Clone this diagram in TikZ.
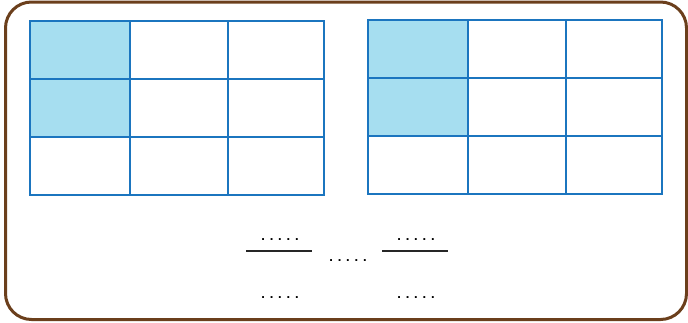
\documentclass[tikz,border=0pt]{standalone}
\usepackage{fontspec}
\setmainfont{Liberation Sans}
\definecolor{framebrown}{HTML}{6B3F1C}
\definecolor{gridblue}{HTML}{1B75BF}
\definecolor{cellfill}{HTML}{A6DEF0}
\begin{document}
\begin{tikzpicture}[x=1pt,y=-1pt,
  gridline/.style={draw=gridblue,line width=2.8pt},
  shade/.style={fill=cellfill},
  dots/.style={inner sep=0pt,anchor=base,font=\fontsize{13}{13}\selectfont\bfseries},
  fracbar/.style={draw=black!85,line width=1.6pt}]
\useasboundingbox (0,0) rectangle (688,322);
\draw[framebrown,line width=3pt,rounded corners=26pt] (5.5,2) rectangle (686.5,319.5);
% left grid
\fill[shade] (30,21) rectangle (130,137);
\draw[gridline] (30,21) rectangle (324,195);
\draw[gridline] (130,21) -- (130,195) (228,21) -- (228,195);
\draw[gridline] (30,79) -- (324,79) (30,137) -- (324,137);
% right grid
\fill[shade] (368,20) rectangle (468,136);
\draw[gridline] (368,20) rectangle (662,194);
\draw[gridline] (468,20) -- (468,194) (566,20) -- (566,194);
\draw[gridline] (368,78) -- (662,78) (368,136) -- (662,136);
% fractions
\node[dots] (n1) at (280,240) {. . . . .};
\coordinate (b1l) at (246,251); \coordinate (b1r) at (312,251);
\draw[fracbar] (b1l) -- (b1r);
\node[dots] (d1) at (280,298) {. . . . .};
\node[dots] (mid) at (348,261) {. . . . .};
\node[dots] (n2) at (416,240) {. . . . .};
\coordinate (b2l) at (382,251); \coordinate (b2r) at (448,251);
\draw[fracbar] (b2l) -- (b2r);
\node[dots] (d2) at (416,298) {. . . . .};
\end{tikzpicture}
\end{document}
